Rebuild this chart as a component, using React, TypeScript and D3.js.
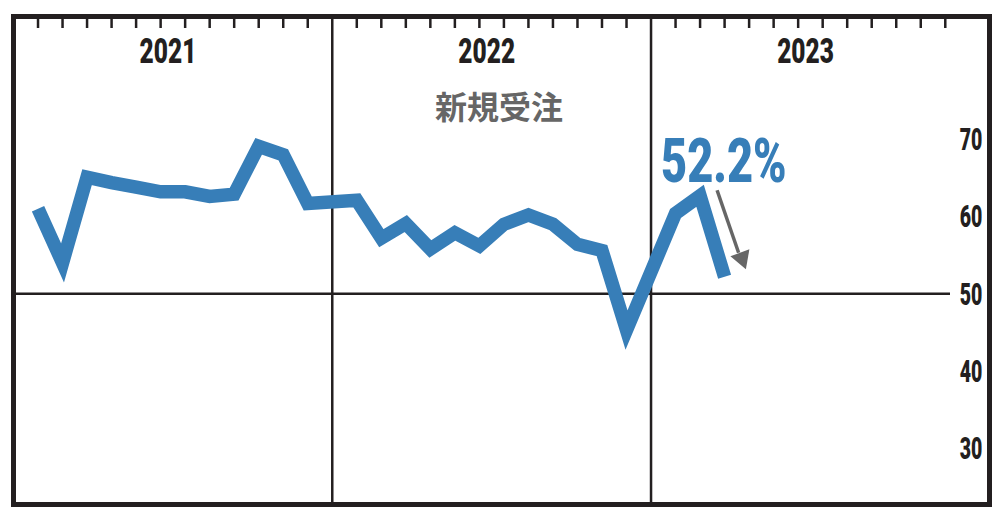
import React from "react";
import * as d3 from "d3";

const years = ["2021", "2022", "2023"];
const values2021 = [61.0, 54.0, 65.1, 64.4, 63.8, 63.2, 63.2, 62.6, 62.9, 69.1, 68.0, 61.7];
const values2022 = [62.1, 57.2, 59.1, 55.8, 57.9, 56.2, 59.0, 60.2, 59.0, 56.4, 55.6, 45.3];
const values2023 = [60.4, 62.7, 52.2];
const yTicks = [70, 60, 50, 40, 30];
const title = "新規受注";
const callout = "52.2%";

const W = 1002;
const H = 518;
const DARK = "#231f20";
const BLUE = "#377eb8";

export default function App() {
  const series = [values2021, values2022, values2023];
  const points: { slot: number; v: number }[] = [];
  series.forEach((vals, yi) =>
    vals.forEach((v, m) => points.push({ slot: yi * 13 + m + 1, v }))
  );

  const x = d3.scaleLinear().domain([0, 39]).range([13.5, 969.8]);
  const y = d3.scaleLinear().domain([30, 70]).range([448.3, 139.3]);

  const line = d3
    .line<{ slot: number; v: number }>()
    .x((d) => x(d.slot))
    .y((d) => y(d.v));

  const left = 13.5, right = 989.5, top = 16.5, bottom = 504.5;
  const condensed = "Roboto, 'Liberation Sans', Arial, sans-serif";

  const lastPt = points[points.length - 1];
  const ax = x(lastPt.slot);
  const ay = y(lastPt.v);

  return (
    <svg
      width={W}
      height={H}
      style={{ position: "absolute", left: 0, top: 0, background: "#fff" }}
    >
      {/* year dividers */}
      {[13, 26].map((s) => (
        <line key={s} x1={x(s)} x2={x(s)} y1={top} y2={bottom} stroke={DARK} strokeWidth={2.5} />
      ))}
      {/* 50 line */}
      <line x1={left} x2={950} y1={y(50)} y2={y(50)} stroke={DARK} strokeWidth={2.5} />
      {/* top ticks */}
      {years.map((yr, yi) =>
        d3.range(12).map((m) => {
          const s = yi * 13 + m + 1;
          return (
            <line key={yr + m} x1={x(s)} x2={x(s)} y1={top} y2={28} stroke={DARK} strokeWidth={2.5} />
          );
        })
      )}
      {/* year labels */}
      {years.map((yr, yi) => (
        <text
          key={yr}
          transform={`translate(${x(yi * 13 + 6.3)},63) scale(0.7,1)`}
          textAnchor="middle"
          fontFamily={condensed}
          fontWeight={900}
          fontSize={35}
          fill={DARK}
        >
          {yr}
        </text>
      ))}
      {/* right axis labels */}
      {yTicks.map((t) => (
        <text
          key={t}
          transform={`translate(971,${y(t) + 10.8}) scale(0.64,1)`}
          textAnchor="middle"
          fontFamily={condensed}
          fontWeight={900}
          fontSize={30.5}
          fill={DARK}
        >
          {t}
        </text>
      ))}
      {/* title */}
      <text
        x={499}
        y={119}
        textAnchor="middle"
        fontFamily="'Noto Sans CJK JP', 'Noto Sans CJK SC', sans-serif"
        fontWeight={700}
        fontSize={32}
        fill="#666"
      >
        {title}
      </text>
      {/* data line */}
      <path
        d={line(points) || ""}
        fill="none"
        stroke={BLUE}
        strokeWidth={13.5}
        strokeLinejoin="miter"
        strokeMiterlimit={10}
        strokeLinecap="butt"
      />
      {/* callout */}
      <text
        transform={`translate(661,181.7) scale(0.74,1)`}
        fontFamily={condensed}
        fontWeight={900}
        fontSize={61}
        fill={BLUE}
      >
        {callout}
      </text>
      {/* arrow */}
      <line x1={ax - 7.5} y1={ay - 86.5} x2={ax + 14} y2={ay - 24} stroke="#666" strokeWidth={3.5} />
      <polygon
        points={`${ax + 21.3},${ay - 7.5} ${ax + 5.8},${ay - 20.5} ${ax + 24.8},${ay - 27.5}`}
        fill="#666"
      />
      {/* frame */}
      <rect
        x={left}
        y={top}
        width={right - left}
        height={bottom - top}
        fill="none"
        stroke={DARK}
        strokeWidth={5}
      />
    </svg>
  );
}
